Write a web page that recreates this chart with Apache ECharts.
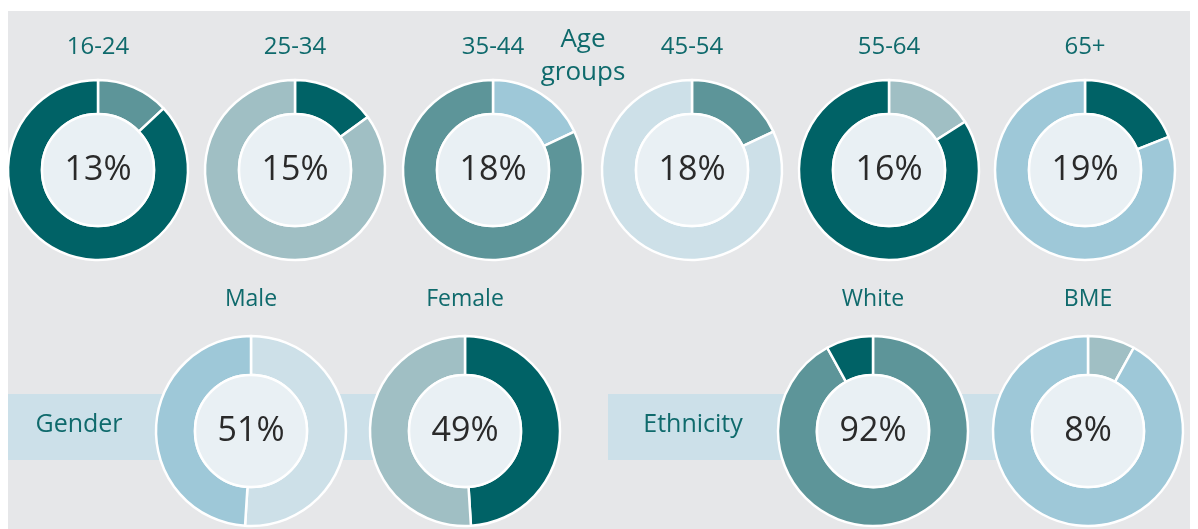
<!DOCTYPE html>
<html>
<head>
<meta charset="utf-8">
<script src="https://cdn.jsdelivr.net/npm/echarts@6/dist/echarts.min.js"></script>
<style>
  html, body { margin: 0; padding: 0; background: #ffffff; }
  #main { width: 1198px; height: 529px; }
</style>
</head>
<body>
<div id="main"></div>
<script>
// data
var ageGroups = ['16-24', '25-34', '35-44', '45-54', '55-64', '65+'];
var agePct = [13, 15, 18, 18, 16, 19];
var genderCats = ['Male', 'Female'];
var genderPct = [51, 49];
var ethnicCats = ['White', 'BME'];
var ethnicPct = [92, 8];

// palette
var DARK = '#006266', MID = '#5d9599', GREY = '#a0bfc4', BLUE = '#9ec8d8', PALE = '#cde0e8';
var INNER = '#e9f0f4', TEXT = '#0f6a6c';

// segment colours: [shown share, rest]
var ageColors = [[MID, DARK], [DARK, GREY], [BLUE, MID], [MID, PALE], [GREY, DARK], [DARK, BLUE]];
var genderColors = [[PALE, BLUE], [DARK, GREY]];
var ethnicColors = [[MID, DARK], [GREY, BLUE]];

// layout
var ageX = [98, 295, 493, 692, 889, 1085];
var genderX = [251, 465];
var ethnicX = [873, 1088];

var series = [];
var graphic = [
    { type: 'rect', z: 0, shape: { x: 8, y: 11, width: 1182, height: 518 }, style: { fill: '#e6e7e9' } },
    { type: 'rect', z: 1, shape: { x: 8, y: 394, width: 457, height: 66 }, style: { fill: '#cce0e9' } },
    { type: 'rect', z: 1, shape: { x: 608, y: 394, width: 480, height: 66 }, style: { fill: '#cce0e9' } }
];

function label(txt, x, y, size) {
    graphic.push({
        type: 'text', z: 10, x: x, y: y,
        style: { text: txt, fill: TEXT, font: size + 'px "Open Sans", sans-serif', align: 'center', verticalAlign: 'middle' }
    });
}

function donut(name, pct, colors, cx, cy, outer) {
    series.push({
        type: 'pie', name: name, silent: true,
        center: [cx, cy], radius: [56, outer],
        startAngle: 90, clockwise: true,
        label: { show: false }, labelLine: { show: false },
        itemStyle: { borderColor: '#ffffff', borderWidth: 2.5 },
        data: [
            { name: name, value: pct, itemStyle: { color: colors[0] } },
            { name: 'other', value: 100 - pct, itemStyle: { color: colors[1] } }
        ]
    });
    // centre disc with the figure
    series.push({
        type: 'pie', silent: true,
        center: [cx, cy], radius: [0, 56],
        itemStyle: { color: INNER, borderColor: '#ffffff', borderWidth: 2.5 },
        label: {
            show: true, position: 'center',
            formatter: pct + '%', padding: [5, 0, 0, 0],
            color: '#2a2a2a', fontSize: 34, fontFamily: 'Open Sans'
        },
        labelLine: { show: false },
        data: [{ name: name, value: 1 }]
    });
}

ageGroups.forEach(function (g, i) {
    donut(g, agePct[i], ageColors[i], ageX[i], 170, 90);
    label(g, ageX[i], 47, 24);
});
genderCats.forEach(function (g, i) {
    donut(g, genderPct[i], genderColors[i], genderX[i], 431, 95);
    label(g, genderX[i], 299, 23);
});
ethnicCats.forEach(function (g, i) {
    donut(g, ethnicPct[i], ethnicColors[i], ethnicX[i], 431, 95);
    label(g, ethnicX[i], 299, 23);
});

label('Age', 583, 40, 26);
label('groups', 583, 73, 26);
label('Gender', 79, 425, 25);
label('Ethnicity', 693, 425, 25);

var myChart = echarts.init(document.getElementById('main'));
myChart.setOption({
    animation: false,
    graphic: graphic,
    series: series
});
</script>
</body>
</html>
